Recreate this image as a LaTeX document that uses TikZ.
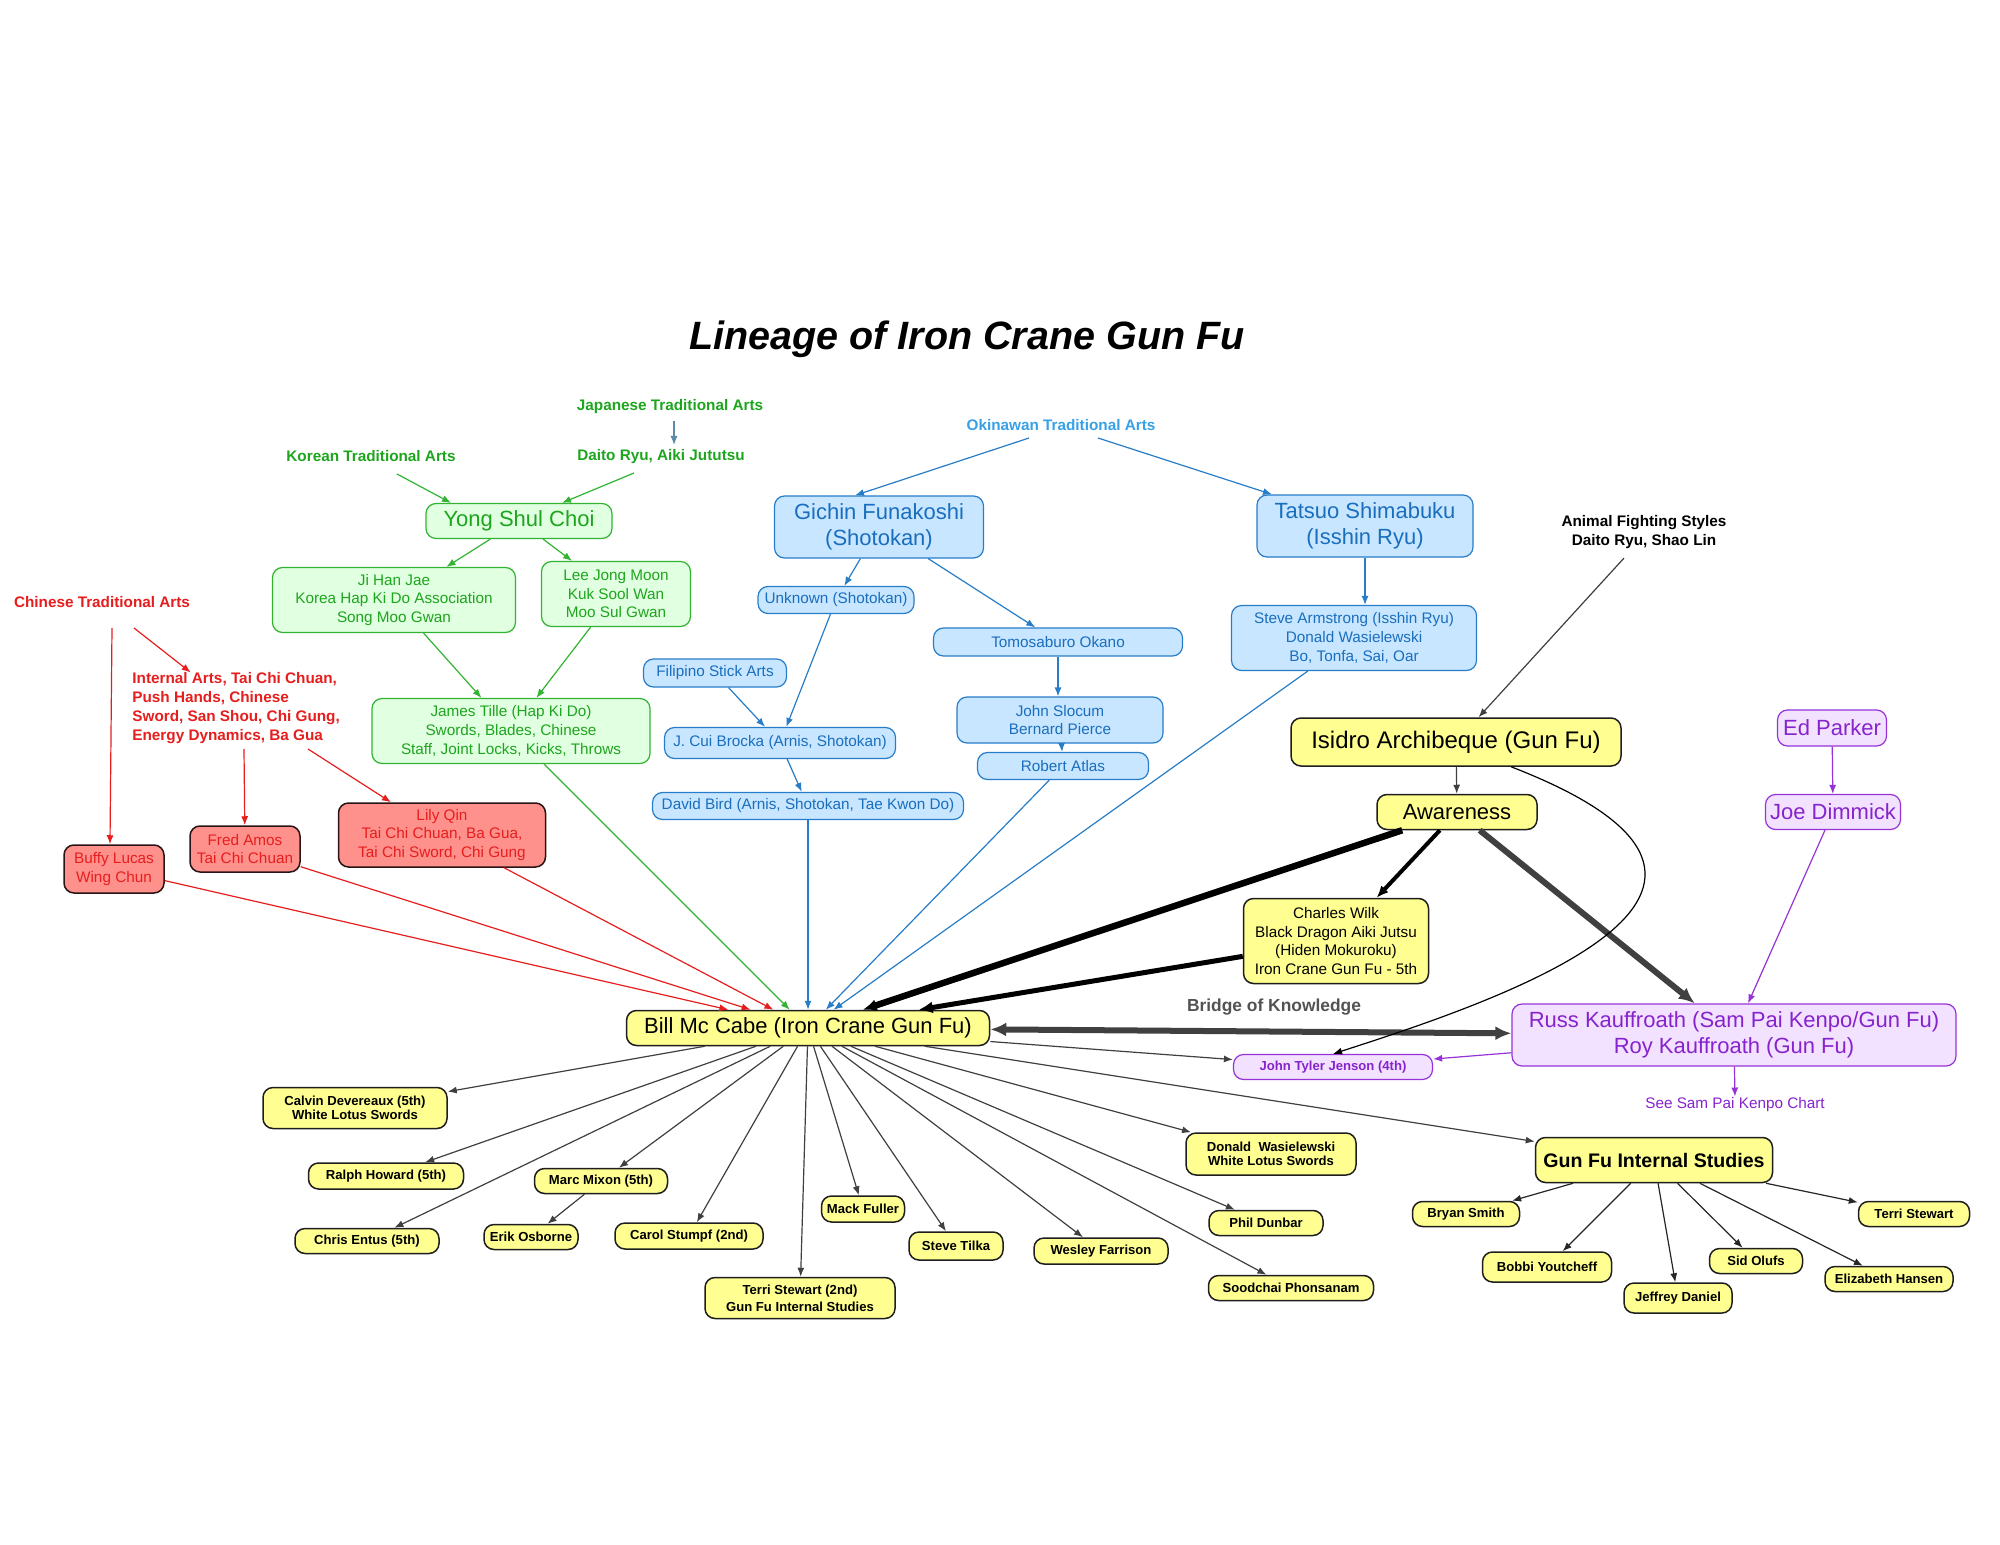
\documentclass[tikz,border=0pt]{standalone}
\usepackage{fontspec}
\setmainfont{Liberation Sans}
\usetikzlibrary{arrows.meta,calc}
\definecolor{gfill}{RGB}{225,255,225}
\definecolor{gbd}{RGB}{50,180,50}
\definecolor{gtxt}{RGB}{30,165,30}
\definecolor{bfill}{RGB}{200,230,255}
\definecolor{bbd}{RGB}{40,125,200}
\definecolor{btxt}{RGB}{25,110,190}
\definecolor{okin}{RGB}{55,160,230}
\definecolor{rfill}{RGB}{255,145,140}
\definecolor{rbd}{RGB}{40,20,20}
\definecolor{rtxt}{RGB}{230,30,30}
\definecolor{yfill}{RGB}{255,255,145}
\definecolor{ybd}{RGB}{30,30,30}
\definecolor{pfill}{RGB}{242,226,255}
\definecolor{pbd}{RGB}{150,50,215}
\definecolor{ptxt}{RGB}{135,35,205}
\definecolor{dgray}{RGB}{64,64,64}
\definecolor{jpblue}{RGB}{90,140,170}
\newcommand\myTitle{\fontsize{19.75}{24}\selectfont\bfseries\itshape}
\newcommand\myBig{\fontsize{11}{13.25}\selectfont}
\newcommand\myIsi{\fontsize{12}{14}\selectfont}
\newcommand\mySm{\fontsize{7.65}{9.35}\selectfont}
\newcommand\myHdr{\fontsize{7.65}{9.35}\selectfont\bfseries}
\newcommand\myYb{\fontsize{6.55}{7}\selectfont\bfseries}
\newcommand\myYbb{\fontsize{6.55}{8.35}\selectfont\bfseries}
\newcommand\myGf{\fontsize{9.8}{11}\selectfont\bfseries}
\newcommand\myBr{\fontsize{8.7}{10}\selectfont\bfseries}
\tikzset{
  nbox/.style={draw, rounded corners=5pt, inner sep=0pt, align=center, line width=0.6pt},
  gbox/.style={nbox, draw=gbd, fill=gfill, text=gtxt},
  bbox/.style={nbox, draw=bbd, fill=bfill, text=btxt},
  rbox/.style={nbox, draw=rbd, fill=rfill, text=rtxt, line width=0.75pt},
  ybox/.style={nbox, draw=ybd, fill=yfill, text=black, line width=0.75pt},
  pbox/.style={nbox, draw=pbd, fill=pfill, text=ptxt},
  wh/.style 2 args={minimum width=#1*0.5pt, minimum height=#2*0.5pt},
  hdr/.style={inner sep=0pt, font=\myHdr, anchor=base},
  arr/.style={-{Latex[length=4.5pt,width=3.5pt]}, line width=0.6pt},
  garr/.style={arr, draw=gbd},
  barr/.style={arr, draw=bbd},
  rarr/.style={arr, draw=rtxt},
  parr/.style={arr, draw=pbd},
  karr/.style={arr, draw=dgray},
  thickblack/.style={draw=black, -{Latex[length=7pt,width=6pt]}},
  thickgray/.style={draw=dgray, line width=3pt},
}
\begin{document}
\begin{tikzpicture}[x=0.5pt,y=-0.5pt]
\useasboundingbox (0,0) rectangle (2000,1545);
\fill[white] (0,0) rectangle (2000,1545);

\node[font=\myTitle, anchor=base, inner sep=0pt] (title) at (967,350) {Lineage of Iron Crane Gun Fu};

% headers
\node[hdr, text=gtxt] (korean) at (371,461.5) {Korean Traditional Arts};
\node[hdr, text=gtxt] (japanese) at (670,410.5) {Japanese Traditional Arts};
\node[hdr, text=gtxt] (daito) at (661,460.5) {Daito Ryu, Aiki Jututsu};
\node[hdr, text=okin] (okinawan) at (1061,430) {Okinawan Traditional Arts};
\node[hdr, text=rtxt] (chinese) at (102,607) {Chinese Traditional Arts};
\node[hdr, text=rtxt, align=left, anchor=north west] (internal) at (132,672.5)
  {Internal Arts, Tai Chi Chuan,\\Push Hands, Chinese\\Sword, San Shou, Chi Gung,\\Energy Dynamics, Ba Gua};
\node[inner sep=0pt, font=\fontsize{7.65}{9.5}\selectfont\bfseries, align=center, anchor=north] (animal) at (1644,515)
  {Animal Fighting Styles\\Daito Ryu, Shao Lin};
\node[inner sep=0pt, font=\myBr, text=dgray!90!white, anchor=base] (bridge) at (1274,1011.5) {Bridge of Knowledge};
\node[inner sep=0pt, font=\mySm, text=ptxt, anchor=base] (seesam) at (1735,1108) {See Sam Pai Kenpo Chart};

% green
\node[gbox, wh={186}{35}, font=\myBig] (yong) at (519,521) {Yong Shul Choi};
\node[gbox, wh={243}{65}, font=\mySm] (ji) at (394,600) {Ji Han Jae\\Korea Hap Ki Do Association\\Song Moo Gwan};
\node[gbox, wh={149}{65}, font=\mySm] (lee) at (616,594) {Lee Jong Moon\\Kuk Sool Wan\\Moo Sul Gwan};
\node[gbox, wh={278}{65}, font=\mySm] (james) at (511,731) {James Tille (Hap Ki Do)\\Swords, Blades, Chinese\\Staff, Joint Locks, Kicks, Throws};

% blue
\node[bbox, wh={209}{62}, font=\myBig] (gichin) at (879,527) {Gichin Funakoshi\\(Shotokan)};
\node[bbox, wh={216}{62}, font=\myBig] (tatsuo) at (1365,526) {Tatsuo Shimabuku\\(Isshin Ryu)};
\node[bbox, wh={156}{27}, font=\mySm] (unknown) at (836,600) {Unknown (Shotokan)};
\node[bbox, wh={249}{28}, font=\mySm] (tomo) at (1058,642) {Tomosaburo Okano};
\node[bbox, wh={143}{28}, font=\mySm] (filipino) at (715,673) {Filipino Stick Arts};
\node[bbox, wh={231}{31}, font=\mySm] (cui) at (780,743) {J. Cui Brocka (Arnis, Shotokan)};
\node[bbox, wh={311}{27}, font=\mySm] (david) at (808,806) {David Bird (Arnis, Shotokan, Tae Kwon Do)};
\node[bbox, wh={206}{46}, font=\mySm] (slocum) at (1060,720) {John Slocum\\Bernard Pierce};
\node[bbox, wh={171}{27}, font=\mySm] (atlas) at (1063,766) {Robert Atlas};
\node[bbox, wh={245}{65}, font=\mySm] (steve) at (1354,638) {Steve Armstrong (Isshin Ryu)\\Donald Wasielewski\\Bo, Tonfa, Sai, Oar};

% red
\node[rbox, wh={100}{48}, font=\mySm] (buffy) at (114,869) {Buffy Lucas\\Wing Chun};
\node[rbox, wh={110}{46}, font=\mySm] (fred) at (245,849) {Fred Amos\\Tai Chi Chuan};
\node[rbox, wh={207}{64}, font=\mySm] (lily) at (442,835) {Lily Qin\\Tai Chi Chuan, Ba Gua,\\Tai Chi Sword, Chi Gung};

% yellow
\node[ybox, wh={330}{48}, font=\myIsi] (isidro) at (1456,742) {Isidro Archibeque (Gun Fu)};
\node[ybox, wh={160}{35}, font=\myBig] (aware) at (1457,812) {Awareness};
\node[ybox, wh={185}{85}, font=\mySm] (charles) at (1336,941) {Charles Wilk\\Black Dragon Aiki Jutsu\\(Hiden Mokuroku)\\Iron Crane Gun Fu - 5th};
\node[ybox, wh={363}{35}, font=\myBig] (bill) at (808,1028) {Bill Mc Cabe (Iron Crane Gun Fu)};
\node[ybox, wh={184}{41}, font=\myYb] (calvin) at (355,1108) {Calvin Devereaux (5th)\\White Lotus Swords};
\node[ybox, wh={155}{26}, font=\myYb] (ralph) at (386,1176) {Ralph Howard (5th)};
\node[ybox, wh={133}{25}, font=\myYb] (marc) at (601,1181) {Marc Mixon (5th)};
\node[ybox, wh={144}{25}, font=\myYb] (chris) at (367,1241) {Chris Entus (5th)};
\node[ybox, wh={94}{25}, font=\myYb] (erik) at (531,1237) {Erik Osborne};
\node[ybox, wh={148}{26}, font=\myYb] (carol) at (689,1236) {Carol Stumpf (2nd)};
\node[ybox, wh={83}{26}, font=\myYb] (mack) at (863,1209) {Mack Fuller};
\node[ybox, wh={190}{41}, font=\myYbb] (terri2) at (800,1298) {Terri Stewart (2nd)\\Gun Fu Internal Studies};
\node[ybox, wh={94}{28}, font=\myYb] (tilka) at (956,1246) {Steve Tilka};
\node[ybox, wh={134}{26}, font=\myYb] (wesley) at (1101,1251) {Wesley Farrison};
\node[ybox, wh={165}{25}, font=\myYb] (soodchai) at (1291,1288) {Soodchai Phonsanam};
\node[ybox, wh={114}{25}, font=\myYb] (phil) at (1266,1223) {Phil Dunbar};
\node[ybox, wh={170}{42}, font=\myYb] (donald) at (1271,1154) {Donald\ \ Wasielewski\\White Lotus Swords};
\node[ybox, wh={237}{45}, font=\myGf] (gunfu) at (1654,1160) {Gun Fu Internal Studies};
\node[ybox, wh={107}{25}, font=\myYb] (bryan) at (1466,1214) {Bryan Smith};
\node[ybox, wh={129}{30}, font=\myYb] (bobbi) at (1547,1267) {Bobbi Youtcheff};
\node[ybox, wh={108}{30}, font=\myYb] (jeffrey) at (1678,1298) {Jeffrey Daniel};
\node[ybox, wh={93}{25}, font=\myYb] (sid) at (1756,1261) {Sid Olufs};
\node[ybox, wh={128}{25}, font=\myYb] (eliz) at (1889,1279) {Elizabeth Hansen};
\node[ybox, wh={111}{25}, font=\myYb] (terri) at (1914,1214) {Terri Stewart};

% purple
\node[pbox, wh={109}{36}, font=\myBig] (ed) at (1832,728) {Ed Parker};
\node[pbox, wh={135}{35}, font=\myBig] (joe) at (1833,812) {Joe Dimmick};
\node[pbox, wh={444}{62}, font=\myBig] (russ) at (1734,1035) {Russ Kauffroath (Sam Pai Kenpo/Gun Fu)\\Roy Kauffroath (Gun Fu)};
\node[pbox, wh={199}{25}, font=\myYb] (jt) at (1333,1067) {John Tyler Jenson (4th)};

% green edges
\draw[garr] ($(korean.base)+(26,12.5)$) -- ($(yong.north)+(-68,0)$);
\draw[garr] ($(daito.base)+(-27,12.5)$) -- ($(yong.north)+(43,0)$);
\draw[arr, draw=jpblue] ($(japanese.base)+(4,10.5)$) -- ($(daito.base)+(13,-15.5)$);
\draw[garr] (yong) -- (ji);
\draw[garr] (yong) -- (lee);
\draw[garr] (ji) -- (james);
\draw[garr] (lee) -- (james);
\draw[garr] (james) -- (bill);

% blue edges
\draw[barr] ($(okinawan.base)+(-32,8)$) -- ($(gichin.north)+(-24,0)$);
\draw[barr] ($(okinawan.base)+(37,8)$) -- ($(tatsuo.north)+(-93,0)$);
\draw[barr] (gichin) -- (unknown);
\draw[barr] (gichin) -- (tomo);
\draw[barr] (unknown) -- (cui);
\draw[barr] (filipino) -- (cui);
\draw[barr] (cui) -- (david);
\draw[barr] (tomo) -- (tomo |- slocum.north);
\draw[barr] (slocum) -- (atlas);
\draw[barr] (tatsuo) -- (tatsuo |- steve.north);
\draw[barr] (david) -- (bill);
\draw[barr] (atlas) -- (bill);
\draw[barr] (steve) -- (bill);

% red edges
\draw[rarr] ($(chinese.base)+(10,21)$) -- ($(buffy.north)+(-4,0)$);
\draw[rarr] ($(chinese.base)+(32,21)$) -- (internal);
\draw[rarr] ($(internal.north west)+(112,76.5)$) -- (fred);
\draw[rarr] ($(internal.north west)+(176,76.5)$) -- (lily);
\draw[rarr] (buffy) -- (bill);
\draw[rarr] (fred) -- (bill);
\draw[rarr] (lily) -- (bill);

% yellow / black edges
\draw[karr] ($(animal.south)+(-20,9)$) -- (isidro);
\draw[karr] (isidro) -- (aware);
\draw[thickblack, line width=3.25pt] (aware) -- (bill);
\draw[thickblack, line width=2.5pt] (charles) -- (bill);
\draw[draw=black, line width=2pt, -{Latex[length=6pt,width=5pt]}] (aware) -- (charles);
\draw[thickgray, -{Latex[length=8pt,width=7pt]}] (aware) -- (russ);
\draw[thickgray, {Latex[length=8pt,width=7pt]}-{Latex[length=8pt,width=7pt]}] (bill) -- (russ);
\draw[arr, draw=black] ($(isidro.south)+(55,0)$) .. controls (1830,890) and (1500,1000) .. (jt.north);

% purple edges
\draw[parr] (ed) -- (joe);
\draw[parr] (joe) -- (russ);
\draw[parr] (russ) -- (jt);
\draw[parr] (russ) -- (seesam);

% Bill's students
\foreach \n in {calvin,ralph,chris,marc,carol,terri2,mack,tilka,wesley,soodchai,phil,donald,gunfu,jt}
  \draw[karr] (bill) -- (\n);
\draw[karr] (marc) -- (erik);
\foreach \n in {bryan,bobbi,jeffrey,sid,eliz,terri}
  \draw[arr, draw=black!85] (gunfu) -- (\n);
\end{tikzpicture}
\end{document}
